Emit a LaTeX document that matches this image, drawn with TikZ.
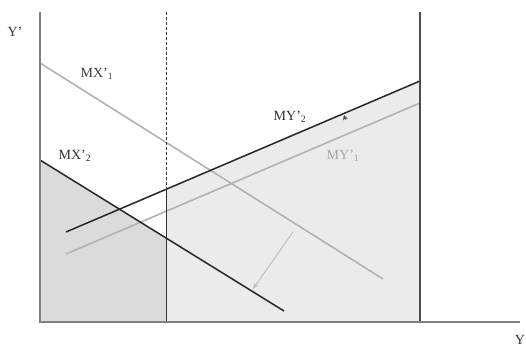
\documentclass[tikz,border=0pt]{standalone}
\usepackage{fontspec}
\setmainfont{Liberation Serif}
\usetikzlibrary{arrows.meta}
\begin{document}
\begin{tikzpicture}[x=1pt,y=-1pt,
  axisline/.style={draw=black!50,line width=1.5pt},
  darkline/.style={draw=black!85,line width=1.5pt},
  lightline/.style={draw=black!30,line width=1.6pt},
  lbl/.style={font=\fontsize{14}{14}\selectfont,inner sep=0pt},
  arr/.style={-{Stealth[length=6pt,width=5pt]}}]
\useasboundingbox (0,0) rectangle (526,347);
% key points
\coordinate (O) at (40,322);
\coordinate (Ytop) at (40,12);
\coordinate (Xend) at (520,322);
\coordinate (Rtop) at (420,12);
\coordinate (Rbot) at (420,322);
\coordinate (Dtop) at (166,12);
\coordinate (Dmid) at (166,189);
\coordinate (Dbot) at (166,322);
\coordinate (mx1a) at (40,63);
\coordinate (mx1b) at (383,279);
\coordinate (mx2a) at (40,160);
\coordinate (mx2c) at (166,238);
\coordinate (mx2b) at (284,311);
\coordinate (my2a) at (66,232);
\coordinate (my2b) at (420,81);
\coordinate (my1a) at (66,254);
\coordinate (my1b) at (420,103);
% shading
\fill[black!14] (mx2a) -- (mx2c) -- (Dbot) -- (O) -- cycle;
\fill[black!8] (Dmid) -- (my2b) -- (Rbot) -- (Dbot) -- cycle;
% lines
\draw[lightline] (mx1a) -- (mx1b);
\draw[lightline] (my1a) -- (my1b);
\draw[darkline] (mx2a) -- (mx2b);
\draw[darkline] (my2a) -- (my2b);
\draw[black!80,line width=1pt,dashed,dash pattern=on 3pt off 2pt] (Dtop) -- (Dmid);
\draw[black!80,line width=1pt] (Dmid) -- (Dbot);
\draw[black!70,line width=1.3pt] (Rtop) -- (Rbot);
\draw[axisline] (Ytop) -- (O) -- (Xend);
% shift arrows
\coordinate (s1) at (293,232);
\coordinate (s2) at (253,289);
\draw[black!25,line width=1pt,arr] (s1) -- (s2);
\coordinate (t1) at (345.5,120);
\coordinate (t2) at (344,115);
\draw[black!70,line width=0.6pt,-{Stealth[length=5pt,width=5pt]}] (t1) -- (t2);
% labels
\node[lbl,text=black!80] (ly) at (15,32) {Y'};
\node[lbl,text=black!80] (lx) at (520,340) {Y};
\node[lbl,text=black!75] (lmx1) at (97,74) {MX'\textsubscript{1}};
\node[lbl,text=black!80] (lmx2) at (75,156) {MX'\textsubscript{2}};
\node[lbl,text=black!80] (lmy2) at (290,117) {MY'\textsubscript{2}};
\node[lbl,text=black!35] (lmy1) at (343,156) {MY'\textsubscript{1}};
\end{tikzpicture}
\end{document}
